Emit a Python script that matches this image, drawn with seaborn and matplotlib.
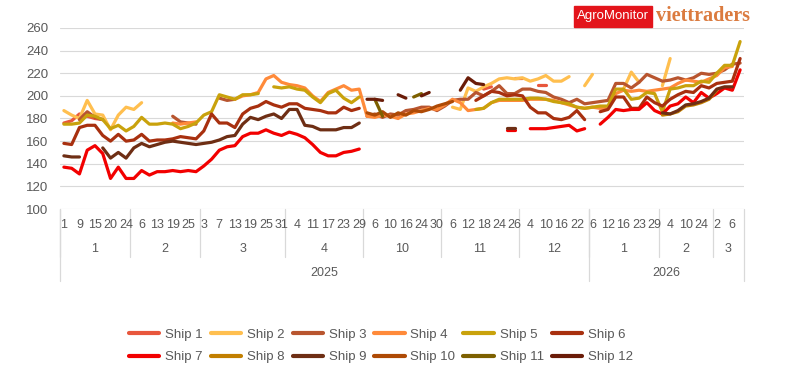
import numpy as np
import pandas as pd
import seaborn as sns
import matplotlib.pyplot as plt
from matplotlib.lines import Line2D
from matplotlib.patches import Rectangle

N = None

# one category per quote date (only every 2nd day is labelled on the axis)
dates = [
    "2025-01-01", "2025-01-06", "2025-01-09", "2025-01-13", "2025-01-15", "2025-01-17", "2025-01-20", "2025-01-22", "2025-01-24",
    "2025-02-04", "2025-02-06", "2025-02-10", "2025-02-13", "2025-02-17", "2025-02-19", "2025-02-21", "2025-02-25", "2025-02-27",
    "2025-03-03", "2025-03-05", "2025-03-07", "2025-03-11", "2025-03-13", "2025-03-17", "2025-03-19", "2025-03-21", "2025-03-25", "2025-03-27", "2025-03-31",
    "2025-04-02", "2025-04-04", "2025-04-09", "2025-04-11", "2025-04-15", "2025-04-17", "2025-04-21", "2025-04-23", "2025-04-25", "2025-04-29",
    "2025-10-02", "2025-10-06", "2025-10-08", "2025-10-10", "2025-10-14", "2025-10-16", "2025-10-21", "2025-10-24", "2025-10-28", "2025-10-30",
    "2025-11-04", "2025-11-06", "2025-11-10", "2025-11-12", "2025-11-14", "2025-11-18", "2025-11-20", "2025-11-24", "2025-11-25", "2025-11-26",
    "2025-12-02", "2025-12-04", "2025-12-08", "2025-12-10", "2025-12-12", "2025-12-16", "2025-12-18", "2025-12-22", "2025-12-26",
    "2026-01-06", "2026-01-09", "2026-01-12", "2026-01-14", "2026-01-16", "2026-01-20", "2026-01-23", "2026-01-27", "2026-01-29",
    "2026-02-02", "2026-02-04", "2026-02-06", "2026-02-10", "2026-02-12", "2026-02-24", "2026-02-26",
    "2026-03-02", "2026-03-04", "2026-03-06", "2026-03-09",
]

# month blocks: Jan 9, Feb 9, Mar 11, Apr 10, Oct 10, Nov 10, Dec 9, Jan 9, Feb 7, Mar 4
ship1 = [176, 178, 184, 182, 180, 179, N, N, N,
         N, N, N, N, N, N, N, N, N,
         N, N, N, N, N, N, N, N, N, N, N,
         N, N, N, N, N, N, N, N, N, N,
         N, N, N, N, N, N, N, N, N, N,
         N, N, N, N, N, 206, 208, N, N, 216,
         216, N, 210, 210, N, N, N, N, N,
         N, N, N, N, N, N, N, N, N,
         N, N, N, N, N, N, N,
         N, N, N, N]
ship2 = [187, 183, 180, 196, 184, 183, 170, 183, 190,
         188, 194, N, N, N, N, N, N, N,
         N, N, N, N, N, N, N, N, N, N, N,
         N, N, N, N, N, N, N, N, N, N,
         N, N, N, N, N, N, N, N, N, N,
         N, 190, 188, 207, 204, 208, 211, 215, 216, 215,
         216, 213, 215, 218, 213, 213, 217, N, 209,
         219, N, N, N, 206, 221, 212, N, N,
         209, 233, N, N, N, N, N,
         N, N, N, N]
ship3 = [N, N, 179, 186, 181, 179, N, N, N,
         N, N, N, N, N, 182, 177, 176, 175,
         N, N, 198, 196, 197, N, N, N, N, N, N,
         N, N, N, N, N, N, N, N, N, N,
         182, 184, 181, 184, 183, 187, 188, 190, 190, 187,
         191, 196, 197, 197, 203, 200, 204, 209, 202, 202,
         206, 206, 204, 203, 199, 197, 194, 197, 193,
         194, 195, 196, 211, 211, 207, 212, 219, 216,
         213, 214, 216, 214, 216, 220, 219,
         220, 223, 228, 229]
ship4 = [N, N, N, N, N, N, N, N, N,
         N, N, N, N, N, 176, 175, 176, 177,
         N, N, N, N, 197, 200, 201, 203, 215, 218, 212,
         210, 209, 207, 200, 195, 203, 206, 209, 205, 206,
         182, 181, 183, 182, 180, 184, 185, 187, 189, 188,
         192, 197, 194, 187, 188, 189, 194, 196, 196, 196,
         196, 197, 197, 197, 196, 194, 192, 190, 189,
         190, 189, 189, 202, 205, 204, 205, 204, 205,
         206, 207, 211, 214, 213, 212, 215,
         218, 225, 226, N]
ship5 = [175, 175, 176, 183, 182, 179, 171, 174, 169,
         173, 181, 175, 175, 176, 175, 171, 173, 176,
         183, 186, 201, 199, 197, 201, 201, 202, N, 208, 207,
         208, 206, 205, 199, 194, 202, 205, 198, 194, 199,
         N, N, N, N, N, N, N, N, N, N,
         N, N, N, N, 188, 189, 194, 197, 197, 197,
         197, 198, 198, 197, 195, 194, 193, 190, 189,
         190, 191, 191, 206, 206, 197, 198, 203, 202,
         186, 206, 207, 209, 209, 213, 212,
         220, 227, 227, 248]
ship6 = [158, 157, 172, 174, 174, 165, 160, 166, 160,
         161, 166, 160, 161, 161, 162, 164, 163, 162,
         169, 184, 176, 176, 172, 184, 189, 191, 195, 192, 190,
         193, 193, 189, 188, 187, 185, 185, 190, 187, 189,
         N, N, N, N, N, N, N, N, N, N,
         N, N, N, N, 196, 200, 204, 203, 200, 201,
         200, 190, 185, 185, 180, 179, 181, 187, 179,
         N, 186, 188, 199, 199, 189, 189, 199, 194,
         191, 197, 201, 204, 203, 209, 207,
         211, 212, 213, 233]
ship7 = [137, 136, 131, 152, 156, 149, 127, 137, 127,
         127, 134, 130, 133, 133, 134, 133, 134, 133,
         138, 144, 152, 155, 156, 164, 167, 167, 170, 167, 165,
         168, 166, 163, 157, 150, 147, 147, 150, 151, 153,
         N, N, N, N, N, N, N, N, N, N,
         N, N, N, N, N, N, N, N, 170, 170,
         N, 171, 171, 171, 172, 173, 174, 169, 171,
         N, 175, 181, 188, 187, 188, 188, 194, 187,
         184, 191, 193, 199, 194, 203, 198,
         202, 207, 205, 223]
ship8 = [N, N, N, N, N, N, N, N, N,
         N, N, N, N, N, N, N, N, N,
         N, N, N, N, N, N, N, N, N, N, N,
         N, N, N, N, N, N, N, N, N, N,
         N, N, N, N, N, N, N, N, N, N,
         N, N, N, N, N, N, N, N, N, N,
         N, N, N, N, N, N, N, N, N,
         N, N, N, N, N, N, N, N, N,
         183, 184, 186, 191, 192, 194, 197,
         205, N, N, N]
ship9 = [147, 146, 146, N, N, 154, 145, 150, 145,
         154, 158, 155, 157, 159, 160, 159, 158, 157,
         158, 159, 161, 164, 165, 175, 181, 179, 182, 184, 180,
         188, 188, 174, 173, 170, 170, 170, 172, 172, 176,
         N, N, N, N, N, N, N, N, N, N,
         N, N, N, N, N, N, N, N, 172, 172,
         N, N, N, N, N, N, N, N, N,
         N, N, N, N, N, N, N, N, N,
         185, 184, 187, 192, 193, 195, 198,
         206, 208, 208, N]
ship10 = [N, N, N, N, N, N, N, N, N,
          N, N, N, N, N, N, N, N, N,
          N, N, N, N, N, N, N, N, N, N, N,
          N, N, N, N, N, N, N, N, N, N,
          185, 183, 186, 181, 185, 183, 187, 186, 188, 191,
          193, 195, N, N, N, N, N, N, N, N,
          N, N, N, N, N, N, N, N, N,
          N, N, N, N, N, N, N, N, N,
          N, N, N, N, N, N, N,
          N, N, N, N]
ship11 = [N, N, N, N, N, N, N, N, N,
          N, N, N, N, N, N, N, N, N,
          N, N, N, N, N, N, N, N, N, N, N,
          N, N, N, N, N, N, N, N, N, N,
          N, 197, 182, N, N, N, 199, 202, N, N,
          N, N, N, N, N, N, N, N, N, N,
          N, N, N, N, N, N, N, N, N,
          N, N, N, N, N, N, N, N, N,
          N, N, N, N, N, N, N,
          N, N, N, N]
ship12 = [N, N, N, N, N, N, N, N, N,
          N, N, N, N, N, N, N, N, N,
          N, N, N, N, N, N, N, N, N, N, N,
          N, N, N, N, N, N, N, N, N, N,
          197, 197, 196, N, 201, 198, N, 200, 203, N,
          N, N, 205, 216, 211, 210, N, N, N, N,
          N, N, N, N, N, N, N, N, N,
          N, N, N, N, N, N, N, N, N,
          N, N, N, N, N, N, N,
          N, N, N, N]

names = ["Ship %d" % i for i in range(1, 13)]
series = [ship1, ship2, ship3, ship4, ship5, ship6,
          ship7, ship8, ship9, ship10, ship11, ship12]
colors = ["#E8573D", "#FFBF4F", "#B8552F", "#FF8A3A", "#C9A20C", "#A8300F",
          "#F20000", "#C27F00", "#6E2E14", "#AE4A05", "#7D6000", "#6A1C08"]
palette = dict(zip(names, colors))

# long table, one unit per unbroken run so gaps stay gaps
rows = []
seg = 0
for name, vals in zip(names, series):
    gap = True
    for i, v in enumerate(vals):
        if v is None:
            gap = True
            continue
        if gap:
            seg += 1
        gap = False
        rows.append((i, v, name, seg))
df = pd.DataFrame(rows, columns=["x", "price", "ship", "seg"])

d = pd.to_datetime(pd.Series(dates))

sns.set_style("white")
plt.rcParams["font.family"] = ["Liberation Sans", "DejaVu Sans"]
grey = "#595959"
line = "#d9d9d9"

fig = plt.figure(figsize=(7.89, 3.82), dpi=100)
ax = fig.add_axes([60 / 789, 1 - 209 / 382, 684 / 789, 181 / 382])

sns.lineplot(data=df, x="x", y="price", hue="ship", units="seg", estimator=None,
             hue_order=names, palette=palette, linewidth=2.3, legend=False, ax=ax,
             solid_joinstyle="round")

ax.set_xlim(-0.5, len(dates) - 0.5)
ax.set_ylim(100, 260)
ax.set_yticks(range(100, 261, 20))
ax.set_xticks([])
ax.set_xlabel("")
ax.set_ylabel("")
ax.yaxis.grid(True, color=line, linewidth=0.8)
ax.set_axisbelow(True)
for s in ax.spines.values():
    s.set_visible(False)
ax.tick_params(axis="y", length=0, pad=8.5, labelsize=9.5, labelcolor=grey)

# multi-level category axis: day / month / year
tr = ax.get_xaxis_transform()
for i in range(0, len(dates), 2):
    ax.text(i, -0.088, str(d[i].day), transform=tr, ha="center", va="center",
            fontsize=9, color=grey)

mkey = d.dt.year * 100 + d.dt.month
starts = [0] + [i for i in range(1, len(d)) if mkey[i] != mkey[i - 1]] + [len(d)]
for a, b in zip(starts[:-1], starts[1:]):
    ax.text((a + b - 1) / 2, -0.221, str(d[a].month), transform=tr, ha="center",
            va="center", fontsize=9, color=grey)
    ax.plot([a - 0.5, a - 0.5], [0, -0.265], transform=tr, color=line, lw=0.9, clip_on=False)

ystarts = [0] + [i for i in range(1, len(d)) if d[i].year != d[i - 1].year] + [len(d)]
for a, b in zip(ystarts[:-1], ystarts[1:]):
    ax.text((a + b - 1) / 2, -0.354, str(d[a].year), transform=tr, ha="center",
            va="center", fontsize=9, color=grey)
for a in ystarts:
    ax.plot([a - 0.5, a - 0.5], [0, -0.398], transform=tr, color=line, lw=0.9, clip_on=False)

# legend, filled row by row
handles = [Line2D([], [], color=palette[n], lw=3) for n in names]
order = [0, 6, 1, 7, 2, 8, 3, 9, 4, 10, 5, 11]
fig.legend([handles[i] for i in order], [names[i] for i in order], loc="center",
           bbox_to_anchor=(381 / 789, 1 - 346 / 382), ncol=6, frameon=False,
           fontsize=9.5, handlelength=2.3, handletextpad=0.45, columnspacing=0.6,
           labelspacing=0.75, labelcolor=grey)

# logo
fig.add_artist(Rectangle((574 / 789, 1 - 27 / 382), 78 / 789, 21 / 382,
                         transform=fig.transFigure, color="#E3141B"))
fig.text(613 / 789, 1 - 16.5 / 382, "AgroMonitor", color="white", fontsize=9.5,
         ha="center", va="center")
fig.text(656 / 789, 1 - 16 / 382, "viettraders", color="#DB7B3F", fontsize=14.5,
         fontweight="bold", family="Liberation Serif", ha="left", va="center")

fig.savefig("out.png", dpi=100)
